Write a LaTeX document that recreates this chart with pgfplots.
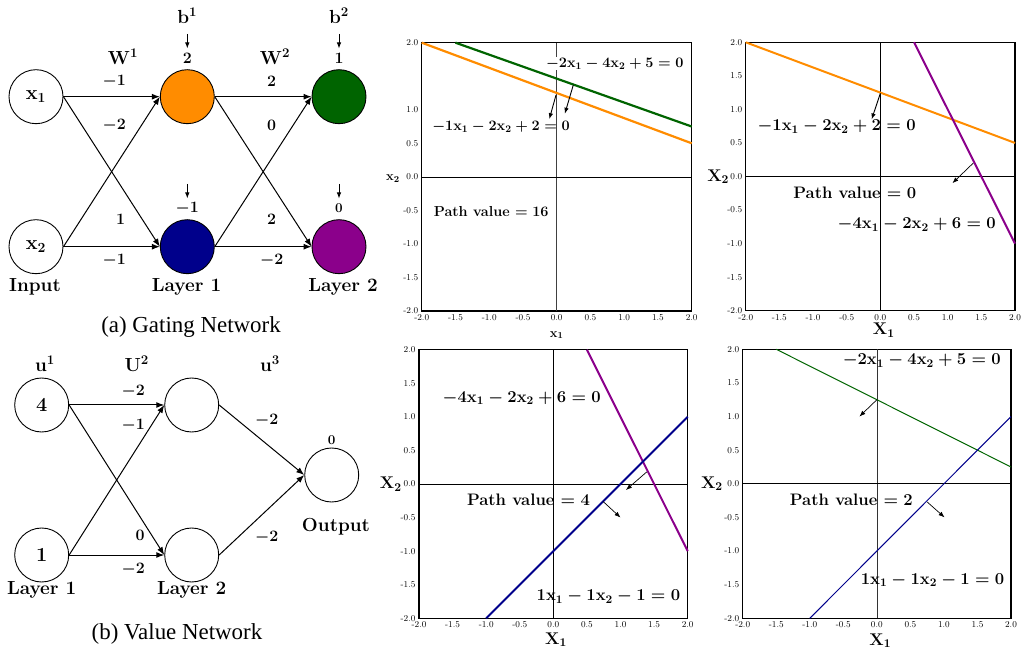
\RequirePackage{fix-cm}
\documentclass[border=0pt]{standalone}
\usepackage{fontspec}
\usepackage{pgfplots}
\pgfplotsset{compat=1.18}
\usetikzlibrary{arrows.meta}
\newfontfamily\capfont{Liberation Serif}
\definecolor{corange}{RGB}{255,140,0}
\definecolor{cgreen}{RGB}{0,100,0}
\definecolor{cblue}{RGB}{0,0,139}
\definecolor{cpurple}{RGB}{139,0,139}
\tikzset{
 nn/.style={circle, draw=black, line width=0.9bp, minimum size=54bp, inner sep=0pt, font=\fontsize{20}{22}\selectfont\bfseries\boldmath},
 bl/.style={inner sep=0pt, font=\fontsize{19}{21}\selectfont\bfseries\boldmath},
 wl/.style={inner sep=0pt, font=\fontsize{16}{18}\selectfont\bfseries\boldmath},
 sl/.style={inner sep=0pt, font=\fontsize{13.5}{15}\selectfont\bfseries\boldmath},
 ar/.style={-{Latex[length=8bp,width=6bp]}, line width=1bp},
 sar/.style={-{Latex[length=6bp,width=4.5bp]}, line width=0.9bp},
 eqa/.style={inner sep=0pt, font=\fontsize{14.5}{16}\selectfont\bfseries\boldmath},
 eqb/.style={inner sep=0pt, font=\fontsize{16.7}{18}\selectfont\bfseries\boldmath},
 axl/.style={inner sep=0pt, font=\fontsize{17}{18}\selectfont\bfseries\boldmath},
 axs/.style={inner sep=0pt, font=\fontsize{13}{14}\selectfont\bfseries\boldmath},
}
\pgfplotsset{
 pstyle/.style={scale only axis, xmin=-2, xmax=2, ymin=-2, ymax=2, clip=false,
  axis line style={line width=1.5bp}, major tick length=0pt,
  xtick={-2,-1.5,-1,-0.5,0,0.5,1,1.5,2},
  ytick={-2,-1.5,-1,-0.5,0,0.5,1,1.5,2},
  ticklabel style={font=\fontsize{9}{10}\selectfont},
  /pgf/number format/fixed, /pgf/number format/fixed zerofill,
  /pgf/number format/precision=1, /pgf/number format/assume math mode=true},
}
\begin{document}
\begin{tikzpicture}[x=1bp,y=1bp]
\useasboundingbox (0,0) rectangle (1021,651);
% ---------------- networks ----------------
\begin{axis}[at={(0bp,0bp)}, anchor=south west, width=1021bp, height=651bp, scale only axis,
  hide axis, xmin=0, xmax=1021, ymin=0, ymax=651, y dir=reverse, clip=false]
 % gating network
 \node[nn] (x1) at (axis cs:36,96.7) {$\mathbf{x}_1$};
 \node[nn] (x2) at (axis cs:36,246.7) {$\mathbf{x}_2$};
 \node[nn, fill=corange] (o) at (axis cs:187.3,96.7) {};
 \node[nn, fill=cblue] (b) at (axis cs:187.3,246.7) {};
 \node[nn, fill=cgreen] (g) at (axis cs:339,96.7) {};
 \node[nn, fill=cpurple] (p) at (axis cs:339,246.7) {};
 \draw[ar] (x1.east) -- (o.west);
 \draw[ar] (x1.east) -- (b.west);
 \draw[ar] (x2.east) -- (o.west);
 \draw[ar] (x2.east) -- (b.west);
 \draw[ar] (o.east) -- (g.west);
 \draw[ar] (o.east) -- (p.west);
 \draw[ar] (b.east) -- (g.west);
 \draw[ar] (b.east) -- (p.west);
 \node[bl] at (axis cs:123,56.7) {$\mathbf{W}^1$};
 \node[bl] at (axis cs:275,56.7) {$\mathbf{W}^2$};
 \node[bl] at (axis cs:187.3,15.7) {$\mathbf{b}^1$};
 \node[bl] at (axis cs:339,15.7) {$\mathbf{b}^2$};
 \draw[sar] (axis cs:187.3,34) -- (axis cs:187.3,48.5);
 \draw[sar] (axis cs:339,34) -- (axis cs:339,48.5);
 \draw[sar] (axis cs:187.3,184) -- (axis cs:187.3,198.5);
 \draw[sar] (axis cs:339,184) -- (axis cs:339,198.5);
 \node[wl] at (axis cs:187.3,58.3) {$2$};
 \node[wl] at (axis cs:339,58.3) {$1$};
 \node[wl] at (axis cs:187.3,208.3) {$-1$};
 \node[sl] at (axis cs:339,208.3) {$0$};
 \node[wl] at (axis cs:114.3,81.7) {$-1$};
 \node[wl] at (axis cs:114.3,125) {$-2$};
 \node[wl] at (axis cs:120.7,219) {$1$};
 \node[wl] at (axis cs:114.3,260.7) {$-1$};
 \node[wl] at (axis cs:271.7,81.7) {$2$};
 \node[wl] at (axis cs:271.7,125) {$0$};
 \node[wl] at (axis cs:271.7,219) {$2$};
 \node[wl] at (axis cs:271.7,260.7) {$-2$};
 \node[bl] at (axis cs:35,287.3) {Input};
 \node[bl] at (axis cs:186.5,287.3) {Layer 1};
 \node[bl] at (axis cs:343,287.3) {Layer 2};
 \node[inner sep=0pt, font=\capfont\fontsize{23}{25}\selectfont] at (axis cs:191,327) {(a) Gating Network};
 % value network
 \node[nn] (v1) at (axis cs:41.7,405) {$4$};
 \node[nn] (v2) at (axis cs:41.7,555) {$1$};
 \node[nn] (h1) at (axis cs:191.7,405) {};
 \node[nn] (h2) at (axis cs:191.7,555) {};
 \node[nn] (out) at (axis cs:331.7,475) {};
 \draw[ar] (v1.east) -- (h1.west);
 \draw[ar] (v1.east) -- (h2.west);
 \draw[ar] (v2.east) -- (h1.west);
 \draw[ar] (v2.east) -- (h2.west);
 \draw[ar] (h1.east) -- (out.west);
 \draw[ar] (h2.east) -- (out.west);
 \node[bl] at (axis cs:45,363.3) {$\mathbf{u}^1$};
 \node[bl] at (axis cs:136.7,363.3) {$\mathbf{U}^2$};
 \node[bl] at (axis cs:270,363.3) {$\mathbf{u}^3$};
 \node[wl] at (axis cs:133.3,391.7) {$-2$};
 \node[wl] at (axis cs:133.3,425.7) {$-1$};
 \node[wl] at (axis cs:140,535.7) {$0$};
 \node[wl] at (axis cs:133.3,569) {$-2$};
 \node[wl] at (axis cs:266.7,420) {$-2$};
 \node[wl] at (axis cs:266.7,537.3) {$-2$};
 \node[sl] at (axis cs:331.7,440) {$0$};
 \node[bl] at (axis cs:41.7,590) {Layer 1};
 \node[bl] at (axis cs:191.7,590) {Layer 2};
 \node[bl] at (axis cs:336,526.7) {Output};
 \node[inner sep=0pt, font=\capfont\fontsize{23}{25}\selectfont] at (axis cs:177,634) {(b) Value Network};
\end{axis}
% ---------------- plot 1 ----------------
\begin{axis}[pstyle, at={(421.7bp,340bp)}, anchor=south west, width=270bp, height=268.3bp,
  ytick={-2,-1.5,-1,-0.5,0,0.5,1,2}]
 \addplot[black!75, line width=0.6bp] coordinates {(0,-2) (0,2)};
 \addplot[black, line width=0.6bp] coordinates {(-2,0) (2,0)};
 \addplot[corange, line width=2.2bp] coordinates {(-2,2) (2,0.5)};
 \addplot[cgreen, line width=2.2bp] coordinates {(-1.5,2) (2,0.75)};
 \draw[sar] (axis cs:-0.01,1.22) -- (axis cs:-0.11,0.86);
 \draw[sar] (axis cs:0.246,1.37) -- (axis cs:0.12,0.94);
 \node[eqa, fill=white, inner sep=0.5pt] at (axis cs:0.86,1.69) {$-2\mathbf{x}_1-4\mathbf{x}_2+5=0$};
 \node[eqa] at (axis cs:-0.825,0.74) {$-1\mathbf{x}_1-2\mathbf{x}_2+2=0$};
 \node[eqa] at (axis cs:-0.97,-0.52) {Path value $=16$};
 \node[axs] at (axis cs:0,-2.36) {$\mathbf{x}_1$};
 \node[axs] at (axis cs:-2.425,-0.02) {$\mathbf{x}_2$};
\end{axis}
% ---------------- plot 2 ----------------
\begin{axis}[pstyle, at={(745.7bp,340.3bp)}, anchor=south west, width=269.3bp, height=268.4bp]
 \addplot[black, line width=0.6bp] coordinates {(0,-2) (0,2)};
 \addplot[black, line width=0.6bp] coordinates {(-2,0) (2,0)};
 \addplot[corange, line width=2bp] coordinates {(-2,2) (2,0.5)};
 \addplot[cpurple, line width=2bp] coordinates {(0.5,2) (2,-1)};
 \draw[sar] (axis cs:0,1.24) -- (axis cs:-0.13,0.85);
 \draw[sar, line width=0.7bp] (axis cs:1.38,0.2) -- (axis cs:1.07,-0.1);
 \node[eqb] at (axis cs:-0.65,0.74) {$-1\mathbf{x}_1-2\mathbf{x}_2+2=0$};
 \node[eqb] at (axis cs:-0.38,-0.25) {Path value $=0$};
 \node[eqb] at (axis cs:0.54,-0.72) {$-4\mathbf{x}_1-2\mathbf{x}_2+6=0$};
 \node[axl] at (axis cs:0.05,-2.29) {$\mathbf{X}_1$};
 \node[axl] at (axis cs:-2.41,0.0) {$\mathbf{X}_2$};
\end{axis}
% ---------------- plot 3 ----------------
\begin{axis}[pstyle, at={(419bp,32.7bp)}, anchor=south west, width=268.7bp, height=268.6bp]
 \addplot[black, line width=0.6bp] coordinates {(0,-2) (0,2)};
 \addplot[black, line width=0.6bp] coordinates {(-2,0) (2,0)};
 \addplot[cpurple, line width=2bp] coordinates {(0.5,2) (2,-1)};
 \addplot[cblue, line width=2bp] coordinates {(-1,-2) (2,1)};
 \draw[sar, line width=0.7bp] (axis cs:1.39,0.18) -- (axis cs:1.08,-0.09);
 \draw[sar, line width=0.7bp] (axis cs:0.74,-0.26) -- (axis cs:1.0,-0.5);
 \node[eqb] at (axis cs:-0.47,1.28) {$-4\mathbf{x}_1-2\mathbf{x}_2+6=0$};
 \node[eqb] at (axis cs:-0.37,-0.24) {Path value $=4$};
 \node[eqb] at (axis cs:0.82,-1.68) {$1\mathbf{x}_1-1\mathbf{x}_2-1=0$};
 \node[axl] at (axis cs:0.04,-2.32) {$\mathbf{X}_1$};
 \node[axl] at (axis cs:-2.42,0.0) {$\mathbf{X}_2$};
\end{axis}
% ---------------- plot 4 ----------------
\begin{axis}[pstyle, at={(742.7bp,32.7bp)}, anchor=south west, width=268.3bp, height=269bp]
 \addplot[black!80, line width=0.6bp] coordinates {(0,-2) (0,2)};
 \addplot[black, line width=0.6bp] coordinates {(-2,0) (2,0)};
 \addplot[cgreen, line width=1bp] coordinates {(-1.5,2) (2,0.25)};
 \addplot[cblue, line width=1bp] coordinates {(-1,-2) (2,1)};
 \draw[sar, line width=0.7bp] (axis cs:0,1.25) -- (axis cs:-0.26,1.0);
 \draw[sar, line width=0.7bp] (axis cs:0.75,-0.27) -- (axis cs:1.01,-0.5);
 \node[eqb] at (axis cs:0.67,1.83) {$-2\mathbf{x}_1-4\mathbf{x}_2+5=0$};
 \node[eqb] at (axis cs:-0.38,-0.24) {Path value $=2$};
 \node[eqb] at (axis cs:0.83,-1.43) {$1\mathbf{x}_1-1\mathbf{x}_2-1=0$};
 \node[axl] at (axis cs:0.05,-2.33) {$\mathbf{X}_1$};
 \node[axl] at (axis cs:-2.46,0.0) {$\mathbf{X}_2$};
\end{axis}
\end{tikzpicture}
\end{document}
